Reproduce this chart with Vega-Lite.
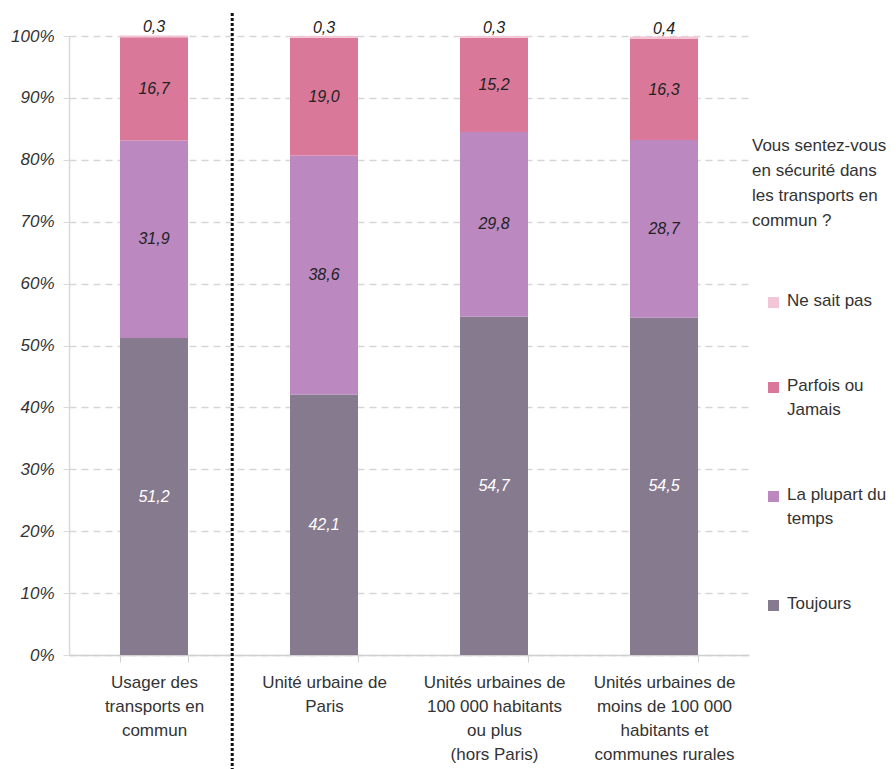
{
  "$schema": "https://vega.github.io/schema/vega-lite/v6.json",
  "width": 680,
  "height": 619,
  "autosize": {"type": "none"},
  "padding": {"left": 69, "top": 36, "right": 147, "bottom": 114},
  "background": "white",
  "config": {"view": {"stroke": null}, "font": "Liberation Sans"},
  "data": {
    "values": [
      {"cat": "Usager des|transports en|commun", "serie": "Toujours", "ord": 1, "v": 51.2},
      {"cat": "Usager des|transports en|commun", "serie": "La plupart du|temps", "ord": 2, "v": 31.9},
      {"cat": "Usager des|transports en|commun", "serie": "Parfois ou|Jamais", "ord": 3, "v": 16.7},
      {"cat": "Usager des|transports en|commun", "serie": "Ne sait pas", "ord": 4, "v": 0.3},
      {"cat": "Unité urbaine de|Paris", "serie": "Toujours", "ord": 1, "v": 42.1},
      {"cat": "Unité urbaine de|Paris", "serie": "La plupart du|temps", "ord": 2, "v": 38.6},
      {"cat": "Unité urbaine de|Paris", "serie": "Parfois ou|Jamais", "ord": 3, "v": 19.0},
      {"cat": "Unité urbaine de|Paris", "serie": "Ne sait pas", "ord": 4, "v": 0.3},
      {"cat": "Unités urbaines de|100 000 habitants|ou plus|(hors Paris)", "serie": "Toujours", "ord": 1, "v": 54.7},
      {"cat": "Unités urbaines de|100 000 habitants|ou plus|(hors Paris)", "serie": "La plupart du|temps", "ord": 2, "v": 29.8},
      {"cat": "Unités urbaines de|100 000 habitants|ou plus|(hors Paris)", "serie": "Parfois ou|Jamais", "ord": 3, "v": 15.2},
      {"cat": "Unités urbaines de|100 000 habitants|ou plus|(hors Paris)", "serie": "Ne sait pas", "ord": 4, "v": 0.3},
      {"cat": "Unités urbaines de|moins de 100 000|habitants et|communes rurales", "serie": "Toujours", "ord": 1, "v": 54.5},
      {"cat": "Unités urbaines de|moins de 100 000|habitants et|communes rurales", "serie": "La plupart du|temps", "ord": 2, "v": 28.7},
      {"cat": "Unités urbaines de|moins de 100 000|habitants et|communes rurales", "serie": "Parfois ou|Jamais", "ord": 3, "v": 16.3},
      {"cat": "Unités urbaines de|moins de 100 000|habitants et|communes rurales", "serie": "Ne sait pas", "ord": 4, "v": 0.4}
    ]
  },
  "transform": [
    {"stack": "v", "groupby": ["cat"], "sort": [{"field": "ord"}], "as": ["v0", "v1"]},
    {"calculate": "(datum.v0 + datum.v1) / 2", "as": "mid"},
    {"calculate": "replace(format(datum.v, '.1f'), '.', ',')", "as": "lbl"}
  ],
  "layer": [
    {
      "mark": {"type": "bar"},
      "encoding": {
        "x": {
          "field": "cat",
          "type": "nominal",
          "sort": null,
          "scale": {"paddingInner": 0.6, "paddingOuter": 0.3},
          "axis": {
            "title": null,
            "labelAngle": 0,
            "labelExpr": "split(datum.label, '|')",
            "labelFontSize": 17,
            "labelColor": "#333333",
            "labelLineHeight": 24,
            "labelPadding": 12,
            "labelLimit": 220,
            "tickBand": "extent",
            "tickSize": 7,
            "tickColor": "#d0d0d0",
            "domainColor": "#d0d0d0",
            "domainWidth": 1.5
          }
        },
        "y": {
          "field": "v0",
          "type": "quantitative",
          "scale": {"domain": [0, 100], "nice": false},
          "axis": {
            "title": null,
            "values": [0, 10, 20, 30, 40, 50, 60, 70, 80, 90, 100],
            "labelExpr": "datum.value + '%'",
            "labelFontStyle": "italic",
            "labelFontSize": 17,
            "labelColor": "#333333",
            "labelPadding": 9,
            "grid": true,
            "gridDash": [7, 5],
            "gridColor": "#d6d6d6",
            "gridWidth": 1.5,
            "domainColor": "#d9d9d9",
            "domainWidth": 1.5,
            "tickColor": "#d9d9d9",
            "tickSize": 6
          }
        },
        "y2": {"field": "v1"},
        "order": {"field": "ord"},
        "color": {
          "field": "serie",
          "type": "nominal",
          "scale": {
            "domain": ["Ne sait pas", "Parfois ou|Jamais", "La plupart du|temps", "Toujours"],
            "range": ["#f3c6d6", "#d97898", "#bb88c0", "#857a8e"]
          },
          "legend": {
            "orient": "none",
            "legendX": 683,
            "legendY": 102,
            "title": ["Vous sentez-vous", "en sécurité dans", "les transports en", "commun ?"],
            "titleFontSize": 17,
            "titleFontWeight": "normal",
            "titleColor": "#333333",
            "titleLineHeight": 25,
            "titlePadding": 64,
            "labelFontSize": 17,
            "labelColor": "#333333",
            "labelExpr": "split(datum.label, '|')",
            "labelBaseline": "top",
            "labelOffset": 5,
            "labelLimit": 200,
            "symbolType": "square",
            "symbolSize": 121,
            "symbolStrokeWidth": 0,
            "symbolOffset": 13,
            "rowPadding": 67,
            "encode": {"labels": {"update": {"dy": {"value": -10}, "lineHeight": {"value": 24}}}}
          }
        }
      }
    },
    {
      "transform": [{"filter": "datum.serie != 'Ne sait pas'"}],
      "mark": {"type": "text", "fontStyle": "italic", "fontSize": 16, "baseline": "middle"},
      "encoding": {
        "x": {"field": "cat", "type": "nominal", "sort": null},
        "y": {"field": "mid", "type": "quantitative"},
        "text": {"field": "lbl"},
        "color": {
          "condition": {"test": "datum.serie == 'Toujours'", "value": "#ffffff"},
          "value": "#222222"
        }
      }
    },
    {
      "transform": [{"filter": "datum.serie == 'Ne sait pas'"}],
      "mark": {"type": "text", "fontStyle": "italic", "fontSize": 16, "baseline": "alphabetic", "dy": -3, "color": "#222222"},
      "encoding": {
        "x": {"field": "cat", "type": "nominal", "sort": null},
        "y": {"field": "v1", "type": "quantitative"},
        "text": {"field": "lbl"}
      }
    },
    {
      "transform": [{"filter": "datum.ord == 1 && indexof(datum.cat, 'Usager') == 0"}],
      "mark": {"type": "rule", "color": "#111111", "strokeWidth": 3, "strokeDash": [3, 2], "clip": false},
      "encoding": {
        "x": {"field": "cat", "type": "nominal", "sort": null, "bandPosition": 1.65},
        "y": {"datum": 103.7},
        "y2": {"datum": -19}
      }
    }
  ]
}
